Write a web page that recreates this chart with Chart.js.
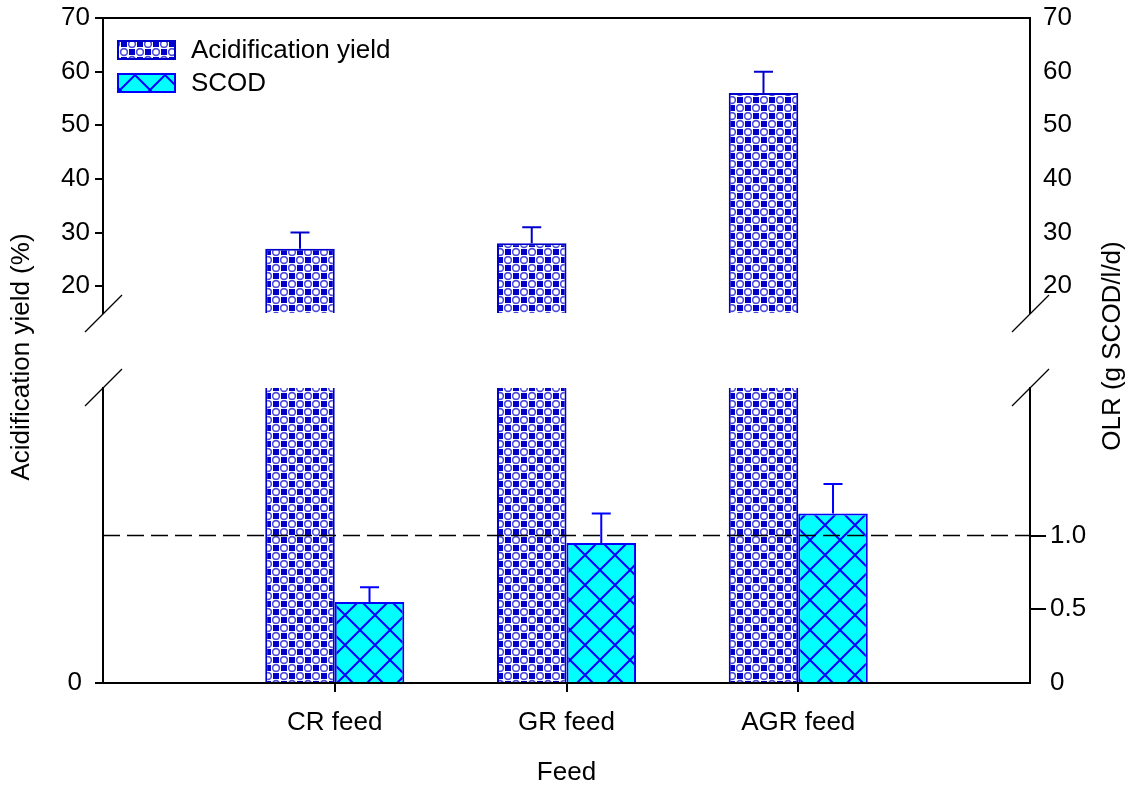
<!DOCTYPE html>
<html>
<head>
<meta charset="utf-8">
<script src="https://cdn.jsdelivr.net/npm/chart.js@4.4.1/dist/chart.umd.min.js"></script>
<style>
  body { margin: 0; background: #fff; }
  #wrap { position: relative; width: 1134px; height: 794px; }
  #wrap canvas { position: absolute; left: 0; top: 0; }
</style>
</head>
<body>
<div id="wrap">
  <canvas id="lower" width="1134" height="794"></canvas>
  <canvas id="upper" width="1134" height="794"></canvas>
</div>
<script>
// values
const feeds = ["CR feed", "GR feed", "AGR feed"];
const acidYield = [27, 28, 56];      // %
const acidErr = [3, 3, 4];
const scod = [0.55, 0.95, 1.15];     // g SCOD/l/d
const scodErr = [0.1, 0.2, 0.2];
const olrLimit = 1.0;

const upperTicks = [20, 30, 40, 50, 60, 70];
const lowerLeftTicks = [0];
const olrTicks = [0, 0.5, 1.0];

Chart.defaults.font.family = "'Liberation Sans', Arial, sans-serif";
Chart.defaults.font.size = 26;
Chart.defaults.color = "#000";

// one empty slot each side so the groups sit at 1/4, 2/4, 3/4 of the axis
const slots = ["", ...feeds, ""];
const pad = arr => [null, ...arr, null];

function checkerFill() {
  const c = document.createElement("canvas");
  c.width = 16; c.height = 16;
  const g = c.getContext("2d");
  g.fillStyle = "#fff";
  g.fillRect(0, 0, 16, 16);
  g.strokeStyle = "#4c4cd6";
  g.lineWidth = 1.6;
  [[12, 4], [4, 12]].forEach(([x, y]) => {
    g.beginPath();
    g.arc(x, y, 3.4, 0, Math.PI * 2);
    g.stroke();
  });
  g.fillStyle = "#0000cc";
  g.fillRect(1, 1, 6, 6);
  g.fillRect(9, 9, 6, 6);
  return g.createPattern(c, "repeat");
}

function hatchFill() {
  const s = 30;
  const c = document.createElement("canvas");
  c.width = s; c.height = s;
  const g = c.getContext("2d");
  g.fillStyle = "#00ffff";
  g.fillRect(0, 0, s, s);
  g.strokeStyle = "#0000ff";
  g.lineWidth = 2;
  g.beginPath();
  for (const o of [-s, 0, s]) {
    g.moveTo(o, 0); g.lineTo(o + s, s);
    g.moveTo(o + s, 0); g.lineTo(o, s);
  }
  g.stroke();
  return g.createPattern(c, "repeat");
}

const acidFill = checkerFill();
const scodFill = hatchFill();

const setTicks = list => scale => { scale.ticks = list.map(v => ({ value: v })); };
const setWidth = w => scale => {
  scale.width = w;
  scale.paddingTop = 0;
  scale.paddingBottom = 0;
};

const errorBars = {
  id: "errorBars",
  afterDatasetsDraw(chart) {
    const { ctx, chartArea } = chart;
    ctx.save();
    ctx.beginPath();
    ctx.rect(chartArea.left, chartArea.top - 1, chartArea.right - chartArea.left, chartArea.bottom - chartArea.top + 1);
    ctx.clip();
    chart.data.datasets.forEach((ds, i) => {
      if (!ds.err) return;
      const meta = chart.getDatasetMeta(i);
      const y = chart.scales[meta.yAxisID];
      meta.data.forEach((bar, j) => {
        const v = ds.data[j], e = ds.err[j];
        if (v == null || e == null) return;
        const y0 = y.getPixelForValue(v), y1 = y.getPixelForValue(v + e);
        ctx.strokeStyle = ds.borderColor;
        ctx.lineWidth = 2;
        ctx.beginPath();
        ctx.moveTo(bar.x, y0);
        ctx.lineTo(bar.x, y1);
        ctx.moveTo(bar.x - 9.5, y1);
        ctx.lineTo(bar.x + 9.5, y1);
        ctx.stroke();
      });
    });
    ctx.restore();
  }
};

function breakMark(ctx, x, y) {
  ctx.beginPath();
  ctx.moveTo(x - 18, y + 18);
  ctx.lineTo(x + 19, y - 19);
  ctx.stroke();
}

const upperDeco = {
  id: "upperDeco",
  afterDraw(chart) {
    const { ctx, chartArea: a } = chart;
    ctx.save();
    ctx.strokeStyle = "#000";
    ctx.lineWidth = 2;
    ctx.beginPath();
    ctx.moveTo(a.left, a.top);
    ctx.lineTo(a.right, a.top);
    ctx.stroke();
    ctx.lineWidth = 1.3;
    breakMark(ctx, a.left, a.bottom + 1);
    breakMark(ctx, a.right, a.bottom + 1);

    // legend
    ctx.font = "26px 'Liberation Sans', Arial, sans-serif";
    ctx.textBaseline = "middle";
    chart.data.datasets.forEach((ds, i) => {
      const bx = 117, by = 40 + i * 33;
      ctx.fillStyle = ds.backgroundColor;
      ctx.fillRect(bx, by, 59, 20);
      ctx.strokeStyle = ds.borderColor;
      ctx.lineWidth = 2;
      ctx.strokeRect(bx + 1, by + 1, 57, 18);
      ctx.fillStyle = "#000";
      ctx.fillText(ds.label, 191, by + 11);
    });
    ctx.restore();
  }
};

const lowerDeco = {
  id: "lowerDeco",
  afterDatasetsDraw(chart) {
    const { ctx, chartArea: a } = chart;
    const y = chart.scales.yr.getPixelForValue(olrLimit);
    ctx.save();
    ctx.strokeStyle = "#000";
    ctx.lineWidth = 1.5;
    ctx.setLineDash([17, 7]);
    ctx.beginPath();
    ctx.moveTo(a.left, y);
    ctx.lineTo(a.right, y);
    ctx.stroke();
    ctx.restore();
  },
  afterDraw(chart) {
    const { ctx, chartArea: a } = chart;
    ctx.save();
    ctx.strokeStyle = "#000";
    ctx.lineWidth = 1.3;
    breakMark(ctx, a.left, a.top);
    breakMark(ctx, a.right, a.top);

    ctx.fillStyle = "#000";
    ctx.font = "26px 'Liberation Sans', Arial, sans-serif";
    ctx.textAlign = "center";
    ctx.textBaseline = "middle";
    ctx.save();
    ctx.translate(22, 357);
    ctx.rotate(-Math.PI / 2);
    ctx.fillText("Acidification yield (%)", 0, 0);
    ctx.restore();
    ctx.save();
    ctx.translate(1113, 346);
    ctx.rotate(-Math.PI / 2);
    ctx.fillText("OLR (g SCOD/l/d)", 0, 0);
    ctx.restore();
    ctx.restore();
  }
};

const axisLine = { color: "#000", width: 2 };
const barOpts = { categoryPercentage: 0.6, barPercentage: 1, clip: 0 };

new Chart(document.getElementById("upper"), {
  type: "bar",
  data: {
    labels: slots,
    datasets: [
      { label: "Acidification yield", data: pad(acidYield), err: pad(acidErr),
        backgroundColor: acidFill, borderColor: "#0000cc", borderWidth: 2, yAxisID: "y" },
      { label: "SCOD", data: pad(scod).map(() => null),
        backgroundColor: scodFill, borderColor: "#0000ff", borderWidth: 2, yAxisID: "y" }
    ]
  },
  options: {
    responsive: false,
    animation: false,
    events: [],
    layout: { padding: { top: 18, bottom: 794 - 313, left: 0, right: 0 } },
    datasets: { bar: barOpts },
    plugins: { legend: { display: false }, tooltip: { enabled: false } },
    scales: {
      x: { display: false, offset: false, grid: { offset: false } },
      y: {
        min: 15, max: 70,
        afterBuildTicks: setTicks(upperTicks),
        afterFit: setWidth(103),
        grid: { drawOnChartArea: false, tickLength: 8, color: "#000", lineWidth: 2 },
        border: axisLine,
        ticks: { padding: 5 }
      },
      y2: {
        position: "right",
        min: 15, max: 70,
        afterBuildTicks: setTicks(upperTicks),
        afterFit: setWidth(104),
        grid: { drawOnChartArea: false, drawTicks: false },
        border: axisLine,
        ticks: { padding: 13 }
      }
    }
  },
  plugins: [errorBars, upperDeco]
});

new Chart(document.getElementById("lower"), {
  type: "bar",
  data: {
    labels: slots,
    datasets: [
      { label: "Acidification yield", data: pad(acidYield), err: pad(acidErr),
        backgroundColor: acidFill, borderColor: "#0000cc", borderWidth: 2, yAxisID: "yl" },
      { label: "SCOD", data: pad(scod), err: pad(scodErr),
        backgroundColor: scodFill, borderColor: "#0000ff", borderWidth: 2, yAxisID: "yr" }
    ]
  },
  options: {
    responsive: false,
    animation: false,
    events: [],
    layout: { padding: { top: 388, bottom: 0, left: 0, right: 0 } },
    datasets: { bar: barOpts },
    plugins: { legend: { display: false }, tooltip: { enabled: false } },
    scales: {
      x: {
        offset: false,
        afterFit: s => { s.height = 111; },
        grid: {
          offset: false, drawOnChartArea: false, tickLength: 9, lineWidth: 2,
          color: c => (c.index === 0 || c.index === slots.length - 1) ? "rgba(0,0,0,0)" : "#000"
        },
        border: axisLine,
        ticks: { padding: 15, maxRotation: 0, autoSkip: false },
        title: { display: true, text: "Feed", padding: { top: 4, bottom: 6 } }
      },
      yl: {
        position: "left",
        min: 0, max: 15,
        afterBuildTicks: setTicks(lowerLeftTicks),
        afterFit: setWidth(103),
        grid: { drawOnChartArea: false, tickLength: 8, color: "#000", lineWidth: 2 },
        border: axisLine,
        ticks: { padding: 13 }
      },
      yr: {
        position: "right",
        min: 0, max: 2,
        afterBuildTicks: setTicks(olrTicks),
        afterFit: setWidth(104),
        grid: {
          drawOnChartArea: false, tickLength: 16, lineWidth: 2,
          color: c => (c.tick && c.tick.value === 0) ? "rgba(0,0,0,0)" : "#000"
        },
        border: axisLine,
        ticks: { padding: 4, callback: v => v === 0 ? "0" : v.toFixed(1) }
      }
    }
  },
  plugins: [errorBars, lowerDeco]
});
</script>
</body>
</html>
